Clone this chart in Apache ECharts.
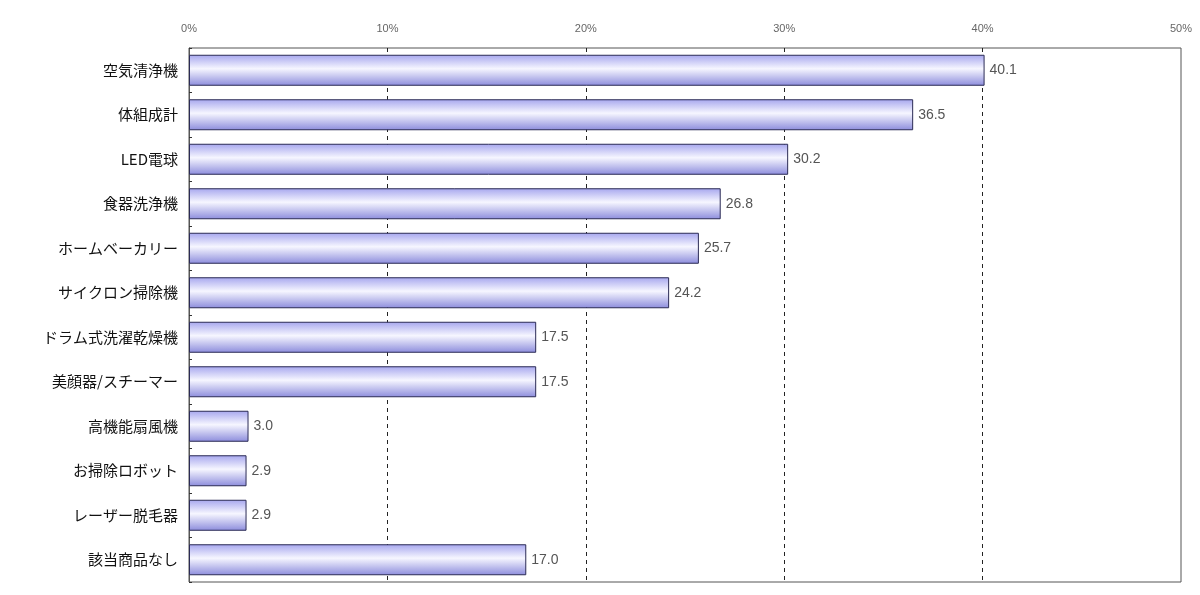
<!DOCTYPE html>
<html>
<head>
<meta charset="utf-8">
<script src="https://cdn.jsdelivr.net/npm/echarts@6/dist/echarts.min.js"></script>
<style>
  html, body { margin: 0; padding: 0; background: #fff; }
  #chart { width: 1200px; height: 595px; }
</style>
</head>
<body>
<div id="chart"></div>
<script>
// 商品名（上から順）
const categories = [
  "空気清浄機", "体組成計", "LED電球", "食器洗浄機", "ホームベーカリー",
  "サイクロン掃除機", "ドラム式洗濯乾燥機", "美顔器/スチーマー",
  "高機能扇風機", "お掃除ロボット", "レーザー脱毛器", "該当商品なし"
];
// 割合（%）
const values = [40.1, 36.5, 30.2, 26.8, 25.7, 24.2, 17.5, 17.5, 3.0, 2.9, 2.9, 17.0];
// 目盛り
const axisMin = 0;
const axisMax = 50;
const axisStep = 10;

const chart = echarts.init(document.getElementById("chart"));
chart.setOption({
  animation: false,
  grid: {
    left: 189,
    right: 19,
    top: 48,
    bottom: 13,
    show: true,
    borderColor: "#555",
    borderWidth: 1
  },
  xAxis: {
    type: "value",
    position: "top",
    min: axisMin,
    max: axisMax,
    interval: axisStep,
    axisLabel: {
      formatter: "{value}%",
      color: "#666",
      fontSize: 11,
      fontFamily: "Liberation Sans",
      margin: 14
    },
    axisLine: { show: false },
    axisTick: { show: false },
    splitLine: {
      showMinLine: false,
      showMaxLine: false,
      lineStyle: { color: "#222", type: [4, 4], width: 1 }
    }
  },
  yAxis: {
    type: "category",
    inverse: true,
    data: categories,
    axisLine: { show: true, lineStyle: { color: "#555" } },
    axisTick: { show: true, inside: true, length: 3, lineStyle: { color: "#333" } },
    axisLabel: {
      color: "#111",
      fontSize: 15,
      fontFamily: "Noto Sans CJK JP",
      margin: 11
    }
  },
  series: [{
    type: "bar",
    data: values,
    barWidth: 31,
    itemStyle: {
      color: new echarts.graphic.LinearGradient(0, 0, 0, 1, [
        { offset: 0, color: "#a6a6ee" },
        { offset: 0.45, color: "#f6f6ff" },
        { offset: 1, color: "#8c8cdc" }
      ]),
      borderColor: "#2b2b55",
      borderWidth: 1
    },
    label: {
      show: true,
      position: "right",
      distance: 5,
      color: "#555",
      fontSize: 14,
      fontFamily: "Liberation Sans",
      formatter: (p) => p.value.toFixed(1)
    }
  }]
});
</script>
</body>
</html>
